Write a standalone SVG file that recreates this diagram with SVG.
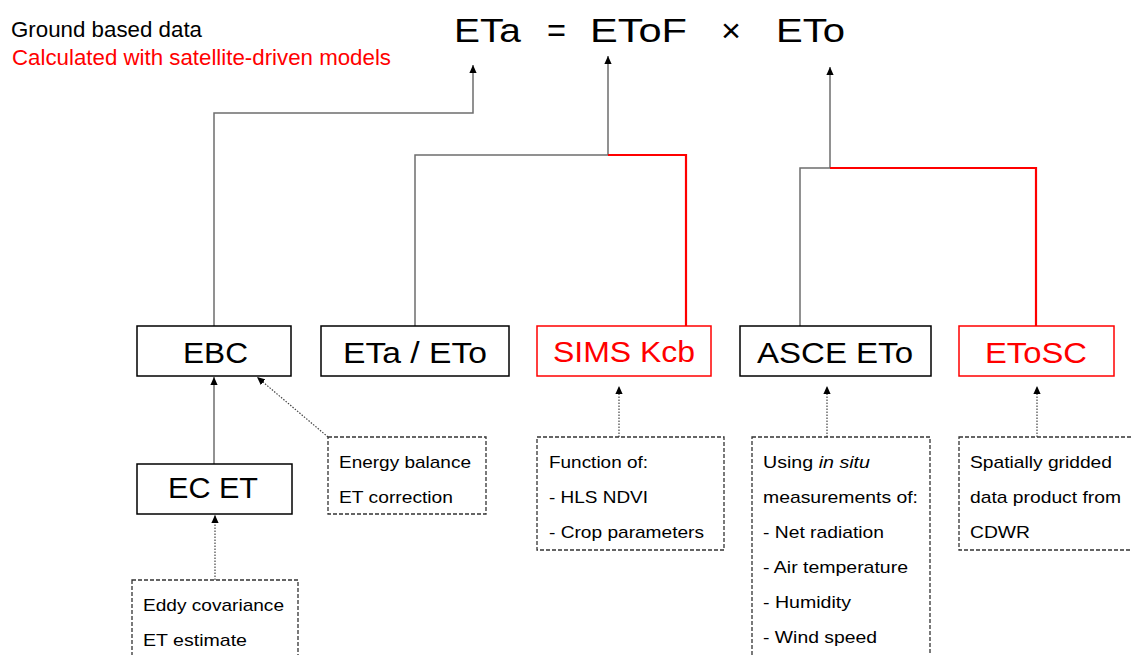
<svg xmlns="http://www.w3.org/2000/svg" width="1131" height="655" viewBox="0 0 1131 655">
<defs>
<marker id="ah" viewBox="0 0 10 10" refX="10" refY="5" markerWidth="8" markerHeight="8" orient="auto" markerUnits="userSpaceOnUse"><path d="M0,0.5 L10,5 L0,9.5 z" fill="#000"/></marker>
<style>
text{font-family:"Liberation Sans",Arial,sans-serif;}
.hd{font-size:21.5px;}
.eq{font-size:34px;fill:#000;}
.lbl{font-size:29px;fill:#000;}
.red{fill:#ff0000;}
.sm{font-size:17px;fill:#000;}
.box{fill:#fff;stroke:#000;stroke-width:1.5;}
.rbox{fill:#fff;stroke:#ff0000;stroke-width:1.5;}
.dbox{fill:#fff;stroke:#333;stroke-width:1.3;stroke-dasharray:4 2;}
.conn{fill:none;stroke:#6e6e6e;stroke-width:1.5;}
.rconn{fill:none;stroke:#ff0000;stroke-width:2.2;}
.dot{fill:none;stroke:#444;stroke-width:1.2;stroke-dasharray:1.5 1.5;}
</style>
</defs>
<rect width="1131" height="655" fill="#fff"/>
<g id="legend">
<text class="hd" x="11" y="37" textLength="191" lengthAdjust="spacingAndGlyphs">Ground based data</text>
<text class="hd red" x="12" y="64.5" textLength="379" lengthAdjust="spacingAndGlyphs">Calculated with satellite-driven models</text>
</g>
<g id="equation">
<text class="eq" x="454" y="42" textLength="67" lengthAdjust="spacingAndGlyphs">ETa</text>
<text class="eq" x="547" y="42" textLength="19" lengthAdjust="spacingAndGlyphs">=</text>
<text class="eq" x="590" y="42" textLength="97" lengthAdjust="spacingAndGlyphs">EToF</text>
<text class="eq" x="721" y="42" textLength="20" lengthAdjust="spacingAndGlyphs">×</text>
<text class="eq" x="776" y="42" textLength="69" lengthAdjust="spacingAndGlyphs">ETo</text>
</g>
<g id="connectors">
<polyline class="conn" points="214,326 214,113 473,113 473,65" marker-end="url(#ah)"/>
<polyline class="conn" points="415,326 415,155 608,155 608,56" marker-end="url(#ah)"/>
<polyline class="rconn" points="608,155 686,155 686,326"/>
<polyline class="conn" points="800,326 800,168 830,168 830,67" marker-end="url(#ah)"/>
<polyline class="rconn" points="830,168 1036,168 1036,326"/>
<line class="conn" x1="214" y1="464" x2="214" y2="377" marker-end="url(#ah)"/>
<line class="dot" x1="328" y1="437" x2="257" y2="377" marker-end="url(#ah)"/>
<line class="dot" x1="619" y1="437" x2="619" y2="386" marker-end="url(#ah)"/>
<line class="dot" x1="827" y1="437" x2="827" y2="386" marker-end="url(#ah)"/>
<line class="dot" x1="1037" y1="437" x2="1037" y2="386" marker-end="url(#ah)"/>
<line class="dot" x1="215" y1="580" x2="215" y2="515" marker-end="url(#ah)"/>
</g>
<g id="ebc">
<rect class="box" x="137" y="326" width="154" height="50"/>
<text class="lbl" x="183" y="363" textLength="65" lengthAdjust="spacingAndGlyphs">EBC</text>
</g>
<g id="eta-eto">
<rect class="box" x="321" y="326" width="188" height="50"/>
<text class="lbl" x="343" y="363" textLength="144" lengthAdjust="spacingAndGlyphs">ETa / ETo</text>
</g>
<g id="sims-kcb">
<rect class="rbox" x="537" y="326" width="174" height="50"/>
<text class="lbl red" x="553" y="362" textLength="142" lengthAdjust="spacingAndGlyphs">SIMS Kcb</text>
</g>
<g id="asce-eto">
<rect class="box" x="740" y="326" width="191" height="50"/>
<text class="lbl" x="757" y="363" textLength="156" lengthAdjust="spacingAndGlyphs">ASCE ETo</text>
</g>
<g id="etosc">
<rect class="rbox" x="959" y="326" width="155" height="50"/>
<text class="lbl red" x="985" y="363" textLength="102" lengthAdjust="spacingAndGlyphs">EToSC</text>
</g>
<g id="ec-et">
<rect class="box" x="137" y="464" width="155" height="50"/>
<text class="lbl" x="168" y="498" textLength="90" lengthAdjust="spacingAndGlyphs">EC ET</text>
</g>
<g id="energy-balance-note">
<rect class="dbox" x="328" y="437" width="158" height="77"/>
<text class="sm" x="339" y="468" textLength="132" lengthAdjust="spacingAndGlyphs">Energy balance</text>
<text class="sm" x="339" y="503" textLength="114" lengthAdjust="spacingAndGlyphs">ET correction</text>
</g>
<g id="sims-note">
<rect class="dbox" x="537" y="437" width="187" height="113"/>
<text class="sm" x="549" y="468" textLength="99" lengthAdjust="spacingAndGlyphs">Function of:</text>
<text class="sm" x="549" y="503" textLength="99" lengthAdjust="spacingAndGlyphs">- HLS NDVI</text>
<text class="sm" x="549" y="538" textLength="155" lengthAdjust="spacingAndGlyphs">- Crop parameters</text>
</g>
<g id="asce-note">
<rect class="dbox" x="752" y="437" width="178" height="225"/>
<text class="sm" x="763" y="468" textLength="107" lengthAdjust="spacingAndGlyphs">Using <tspan font-style="italic">in situ</tspan></text>
<text class="sm" x="763" y="503" textLength="155" lengthAdjust="spacingAndGlyphs">measurements of:</text>
<text class="sm" x="763" y="538" textLength="121" lengthAdjust="spacingAndGlyphs">- Net radiation</text>
<text class="sm" x="763" y="573" textLength="145" lengthAdjust="spacingAndGlyphs">- Air temperature</text>
<text class="sm" x="763" y="608" textLength="88" lengthAdjust="spacingAndGlyphs">- Humidity</text>
<text class="sm" x="763" y="643" textLength="114" lengthAdjust="spacingAndGlyphs">- Wind speed</text>
</g>
<g id="etosc-note">
<rect class="dbox" x="959" y="437" width="185" height="113"/>
<text class="sm" x="970" y="468" textLength="142" lengthAdjust="spacingAndGlyphs">Spatially gridded</text>
<text class="sm" x="970" y="503" textLength="151" lengthAdjust="spacingAndGlyphs">data product from</text>
<text class="sm" x="970" y="538" textLength="60" lengthAdjust="spacingAndGlyphs">CDWR</text>
</g>
<g id="ec-note">
<rect class="dbox" x="132" y="580" width="166" height="85"/>
<text class="sm" x="143" y="611" textLength="141" lengthAdjust="spacingAndGlyphs">Eddy covariance</text>
<text class="sm" x="143" y="646" textLength="104" lengthAdjust="spacingAndGlyphs">ET estimate</text>
</g>
</svg>
